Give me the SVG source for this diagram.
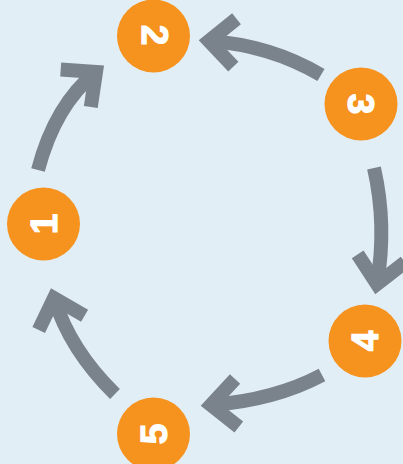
<svg xmlns="http://www.w3.org/2000/svg" width="403" height="464" viewBox="0 0 403 464">
<style>
.node circle{fill:#f6921e}
.node text{fill:#ffffff;stroke:#ffffff;stroke-width:1.2;font-family:"Liberation Sans",Arial,sans-serif;font-weight:bold;font-size:37px;text-anchor:middle}
.shaft{fill:none;stroke:#7a838c;stroke-width:14;stroke-linecap:butt}
</style>
<defs>
<marker id="chev" markerUnits="userSpaceOnUse" orient="auto" markerWidth="80" markerHeight="80" refX="40" refY="40" viewBox="0 0 80 80" overflow="visible">
<polyline points="14,16 40,40 14,64" fill="none" stroke="#7a838c" stroke-width="14" stroke-linejoin="miter" stroke-miterlimit="10"/>
</marker>
</defs>
<rect width="403" height="464" fill="#e2eef6"/>
<g id="connectors">
<path class="shaft" d="M38,170 Q55,105 96,72" marker-end="url(#chev)"/>
<path class="shaft" d="M321,75 Q270,45 209,41" marker-end="url(#chev)"/>
<path class="shaft" d="M374,168 Q387,225 377,284" marker-end="url(#chev)"/>
<path class="shaft" d="M322,375 Q275,400 211,405" marker-end="url(#chev)"/>
<path class="shaft" d="M115,394 Q70,350 54,298" marker-end="url(#chev)"/>
</g>
<g id="node1" class="node"><circle cx="43.5" cy="224" r="36.5"/><text transform="translate(43.5,224) rotate(-90)" y="13">1</text></g>
<g id="node2" class="node"><circle cx="153.5" cy="36" r="36.5"/><text transform="translate(155,35) rotate(90)" y="13">2</text></g>
<g id="node3" class="node"><circle cx="361" cy="104" r="36.5"/><text transform="translate(361,104) rotate(90)" y="13">3</text></g>
<g id="node4" class="node"><circle cx="365" cy="341" r="36.5"/><text transform="translate(365,341) rotate(-90)" y="13">4</text></g>
<g id="node5" class="node"><circle cx="153.5" cy="434" r="36.5"/><text transform="translate(153.5,434) rotate(-90)" y="13">5</text></g>
</svg>
